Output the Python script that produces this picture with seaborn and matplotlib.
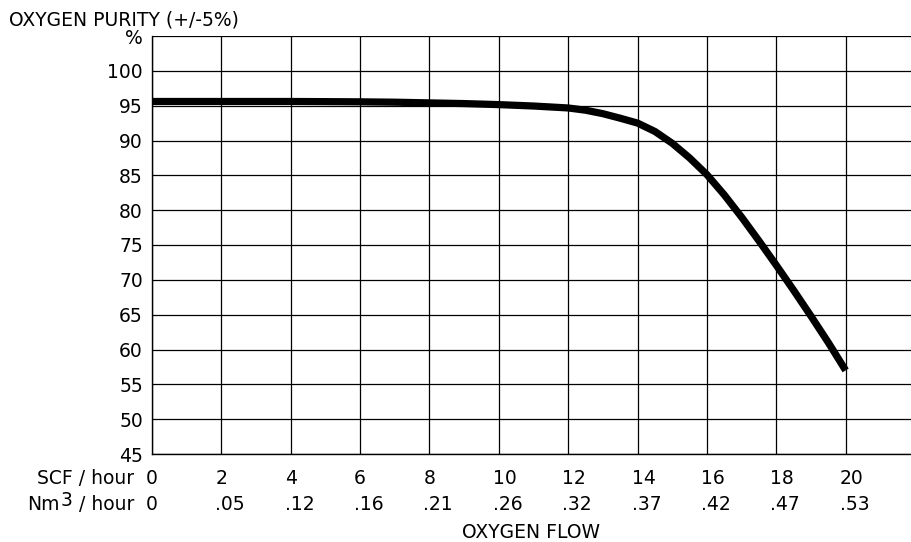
import matplotlib
matplotlib.use("Agg")
import matplotlib.pyplot as plt
import seaborn as sns
import pandas as pd

# ---- data ----
flow_scf = [0, 1, 2, 3, 4, 5, 6, 7, 8, 9, 10, 11, 12, 12.5, 13, 13.5, 14, 14.5,
            15, 15.5, 16, 16.5, 17, 17.5, 18, 18.5, 19, 19.5, 20]
purity = [95.6, 95.6, 95.6, 95.6, 95.6, 95.58, 95.55, 95.5, 95.4, 95.3, 95.15,
          94.95, 94.67, 94.35, 93.85, 93.2, 92.5, 91.3, 89.6, 87.5, 85.1, 82.2,
          79.0, 75.6, 72.1, 68.5, 64.8, 61.0, 57.0]

scf_ticks = [0, 2, 4, 6, 8, 10, 12, 14, 16, 18, 20]
nm3_labels = ["0", ".05", ".12", ".16", ".21", ".26", ".32", ".37", ".42", ".47", ".53"]
y_ticks = [45, 50, 55, 60, 65, 70, 75, 80, 85, 90, 95, 100, 105]
y_labels = ["45", "50", "55", "60", "65", "70", "75", "80", "85", "90", "95", "100", "%"]

df = pd.DataFrame({"flow": flow_scf, "purity": purity})

sns.set_style("white")
plt.rcParams["font.family"] = ["DejaVu Sans"]
plt.rcParams["text.color"] = "black"
plt.rcParams["xtick.color"] = "black"
plt.rcParams["ytick.color"] = "black"
plt.rcParams["axes.labelcolor"] = "black"
FS = 13.5

W, H = 912, 542
fig = plt.figure(figsize=(W / 100, H / 100), dpi=100)
L, R, T, B = 152, 915, 36, 454
ax = fig.add_axes([L / W, 1 - B / H, (R - L) / W, (B - T) / H])

sns.lineplot(data=df, x="flow", y="purity", ax=ax, color="black", linewidth=5.2,
             solid_capstyle="butt", solid_joinstyle="round", zorder=3)

ax.set_xlim(0, 22)
ax.set_ylim(45, 105)
ax.set_yticks(y_ticks)
ax.set_yticklabels(y_labels, fontsize=FS, color="black")
ax.set_xticks(scf_ticks + [22])
ax.set_xticklabels([])
ax.tick_params(axis="both", length=0)
ax.tick_params(axis="y", pad=6.5)
ax.grid(True, color="black", linewidth=0.9)
ax.set_xlabel("")
ax.set_ylabel("")
for s in ["left", "bottom"]:
    ax.spines[s].set_visible(True)
    ax.spines[s].set_color("black")
    ax.spines[s].set_linewidth(1.0)
for s in ["top", "right"]:
    ax.spines[s].set_visible(False)

# two rows of x labels
for xv, l2 in zip(scf_ticks, nm3_labels):
    ax.annotate(str(xv), xy=(xv, 0), xycoords=("data", "axes fraction"),
                xytext=(-6, -23), textcoords="offset pixels",
                ha="left", va="center_baseline", fontsize=FS, color="black")
    ax.annotate(l2, xy=(xv, 0), xycoords=("data", "axes fraction"),
                xytext=(-6, -49), textcoords="offset pixels",
                ha="left", va="center_baseline", fontsize=FS, color="black")

def ftext(px, py, s, **kw):
    return fig.text(px / W, 1 - py / H, s, color="black", **kw)

ftext(9, 18, "OXYGEN PURITY (+/-5%)", ha="left", va="center_baseline", fontsize=FS)
ftext(134, 477, "SCF / hour", ha="right", va="center_baseline", fontsize=FS)
hour = ftext(134, 503, "/ hour", ha="right", va="center_baseline", fontsize=FS)
fig.canvas.draw()
r = fig.canvas.get_renderer()
hx0 = hour.get_window_extent(r).x0
sup = fig.text(0, 0, "3", fontsize=FS, ha="right", va="center_baseline", color="black")
sup.set_position(((hx0 - 6) / W, (H - 498) / H))
fig.canvas.draw()
sx0 = sup.get_window_extent(r).x0
nm = fig.text((sx0 - 1) / W, (H - 503) / H, "Nm", fontsize=FS, ha="right",
              va="center_baseline", color="black")
ftext(531, 531, "OXYGEN FLOW", ha="center", va="center_baseline", fontsize=FS)

fig.savefig("out.png", dpi=100)
